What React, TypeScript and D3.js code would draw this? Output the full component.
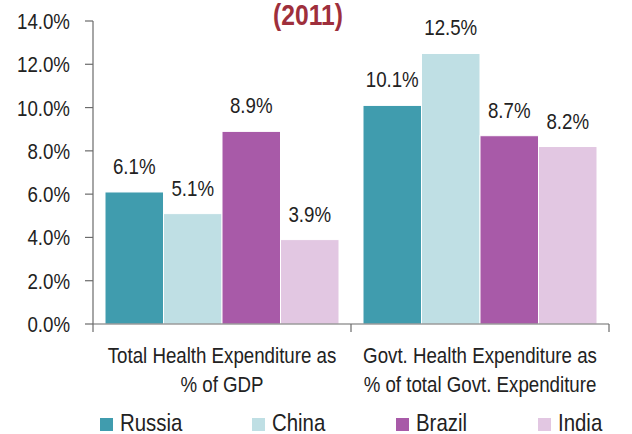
import React from "react";
import * as d3 from "d3";

const categories = [
  ["Total Health Expenditure as", "% of GDP"],
  ["Govt. Health Expenditure as", "% of total Govt. Expenditure"],
];
const seriesNames = ["Russia", "China", "Brazil", "India"];
const seriesColors = ["#409cae", "#bfdfe4", "#a85aa8", "#e2c7e2"];
const values = [
  [6.1, 5.1, 8.9, 3.9],
  [10.1, 12.5, 8.7, 8.2],
];
const yTicks = [0, 2, 4, 6, 8, 10, 12, 14];
const title = "(2011)";

const W = 632;
const H = 434;
const FONT = "'Liberation Sans', Arial, sans-serif";
const SX = 0.85;

function T(props: {
  x: number;
  y: number;
  size: number;
  anchor?: string;
  weight?: string;
  fill?: string;
  dy?: string;
  children: React.ReactNode;
}) {
  const { x, y, size, anchor = "start", weight = "normal", fill = "#222", dy, children } = props;
  return (
    <text
      transform={`translate(${x},${y}) scale(${SX},1)`}
      textAnchor={anchor}
      fontSize={size}
      fontWeight={weight}
      fill={fill}
      dy={dy}
    >
      {children}
    </text>
  );
}

export default function App() {
  const x0 = d3.scaleBand<number>().domain(categories.map((_, i) => i)).range([93, 609]).padding(0);
  const groupPad = 12;
  const x1 = d3
    .scaleBand<number>()
    .domain(seriesNames.map((_, i) => i))
    .range([groupPad, x0.bandwidth() - groupPad])
    .padding(0);
  const y = d3.scaleLinear().domain([0, 14]).range([324, 21]);
  const axisColor = "#6b6b6b";
  const legendX = [100, 252, 396, 538];

  return (
    <svg width={W} height={H} style={{ position: "absolute", left: 0, top: 0, background: "#fff" }} fontFamily={FONT}>
      <T x={308} y={25} size={29} anchor="middle" weight="bold" fill="#9e2f3c">
        {title}
      </T>
      {values.map((grp, gi) =>
        grp.map((v, si) => (
          <rect
            key={`b${gi}-${si}`}
            x={(x0(gi) as number) + (x1(si) as number)}
            y={y(v)}
            width={x1.bandwidth()}
            height={y(0) - y(v)}
            fill={seriesColors[si]}
            stroke="#fff"
            strokeWidth={1}
          />
        ))
      )}
      {values.map((grp, gi) =>
        grp.map((v, si) => (
          <T
            key={`l${gi}-${si}`}
            x={(x0(gi) as number) + (x1(si) as number) + x1.bandwidth() / 2}
            y={y(v) - 18}
            size={22}
            anchor="middle"
          >
            {v.toFixed(1) + "%"}
          </T>
        ))
      )}
      <line x1={93} x2={93} y1={y(14)} y2={324} stroke={axisColor} strokeWidth={1.2} />
      {yTicks.map((t) => (
        <g key={`t${t}`}>
          <line x1={85} x2={93} y1={y(t)} y2={y(t)} stroke={axisColor} strokeWidth={1.2} />
          <T x={70} y={y(t)} dy="0.36em" size={22} anchor="end">
            {t.toFixed(1) + "%"}
          </T>
        </g>
      ))}
      <line x1={93} x2={609} y1={324} y2={324} stroke={axisColor} strokeWidth={1.2} />
      {[0, 1, 2].map((i) => {
        const xx = 93 + i * x0.bandwidth();
        return <line key={`xt${i}`} x1={xx} x2={xx} y1={324} y2={332} stroke={axisColor} strokeWidth={1.2} />;
      })}
      {categories.map((lines, gi) =>
        lines.map((ln, li) => (
          <T
            key={`c${gi}-${li}`}
            x={(x0(gi) as number) + x0.bandwidth() / 2}
            y={363 + li * 29}
            size={22}
            anchor="middle"
          >
            {ln}
          </T>
        ))
      )}
      {seriesNames.map((s, i) => (
        <g key={`lg${i}`}>
          <rect x={legendX[i]} y={418} width={13} height={13} fill={seriesColors[i]} />
          <T x={legendX[i] + 20} y={431} size={24}>
            {s}
          </T>
        </g>
      ))}
    </svg>
  );
}
